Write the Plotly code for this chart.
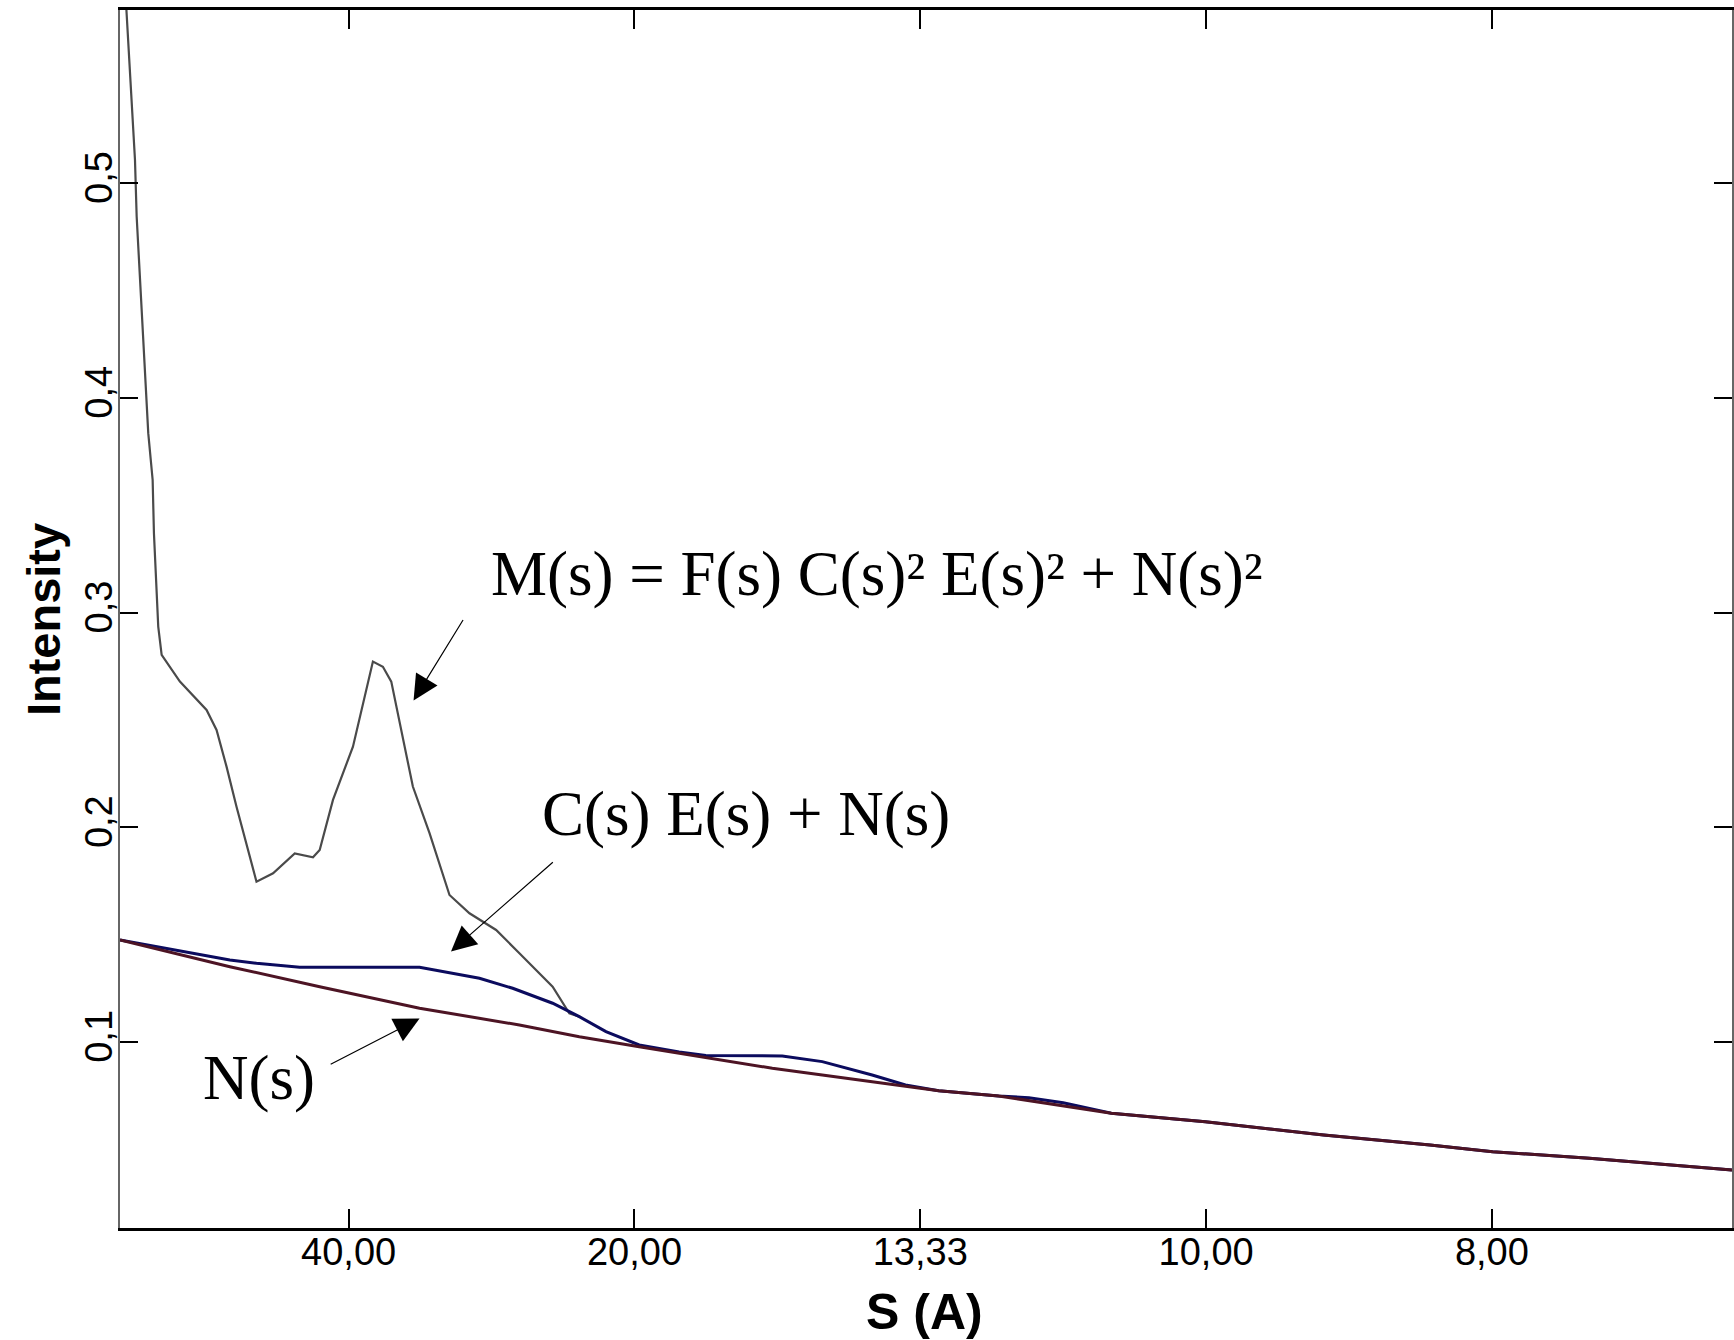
import plotly.graph_objects as go

# ---- data (spatial frequency in 1/Å; tick labels show resolution in Å) ----
freq_M = [0.00514, 0.005585, 0.006022, 0.00631, 0.006459, 0.006747, 0.007035, 0.007332,
          0.007472, 0.007856, 0.007969, 0.008345, 0.008642, 0.01024, 0.012572, 0.013445,
          0.014319, 0.015192, 0.016939, 0.018389, 0.020284, 0.021882, 0.022467, 0.023629,
          0.025376, 0.027122, 0.027996, 0.028729, 0.030039, 0.030616, 0.032074, 0.033821,
          0.035568, 0.0379, 0.039934, 0.042843, 0.044301, 0.045175]
M_vals = [0.62, 0.5807, 0.5419, 0.5109, 0.4844, 0.4565, 0.4317, 0.4006,
          0.3836, 0.3618, 0.337, 0.2935, 0.2803, 0.2679, 0.2547, 0.2454,
          0.2283, 0.2096, 0.1747, 0.1786, 0.1879, 0.1861, 0.1895, 0.2128,
          0.2376, 0.2772, 0.2748, 0.2679, 0.2329, 0.219, 0.1973, 0.1685,
          0.16, 0.1522, 0.1414, 0.1258, 0.1134, 0.1118]

freq_CEN = [0.005, 0.014607, 0.016939, 0.02072, 0.031201, 0.034109, 0.036441, 0.039349,
            0.042843, 0.045175, 0.047507, 0.050415, 0.053908, 0.05624, 0.06293, 0.066424,
            0.07079, 0.073707, 0.076616, 0.081856, 0.0845, 0.0875, 0.091707, 0.099934,
            0.110284, 0.119585, 0.125061, 0.133515, 0.146]
CEN_vals = [0.14756, 0.13819, 0.1367, 0.13484, 0.13484, 0.13205, 0.12972, 0.12506,
            0.11808, 0.11184, 0.10486, 0.09864, 0.09539, 0.0938, 0.09353, 0.09089,
            0.08468, 0.08002, 0.07736, 0.07489, 0.0741, 0.0717, 0.06684, 0.06293,
            0.05673, 0.05207, 0.04895, 0.04587, 0.04042]

freq_N = [0.005, 0.014607, 0.022467, 0.031201, 0.039934, 0.045175, 0.050415, 0.055655,
          0.062057, 0.066424, 0.07079, 0.076616, 0.081856, 0.091707, 0.099934, 0.110284,
          0.119585, 0.125061, 0.133515, 0.146]
N_vals = [0.14756, 0.13512, 0.1258, 0.11574, 0.10796, 0.10251, 0.09786, 0.0932,
          0.0878, 0.08468, 0.08155, 0.07736, 0.07489, 0.06684, 0.06293, 0.05673,
          0.05207, 0.04895, 0.04587, 0.04042]

x_tickvals = [0.025, 0.05, 0.075, 0.1, 0.125]
x_ticktext = ["40,00", "20,00", "13,33", "10,00", "8,00"]
y_tickvals = [0.1, 0.2, 0.3, 0.4, 0.5]
y_ticktext = ["0,1", "0,2", "0,3", "0,4", "0,5"]

fig = go.Figure()
fig.add_trace(go.Scatter(x=freq_M, y=M_vals, mode="lines",
                         line=dict(color="#4a4a4a", width=2.2), showlegend=False))
fig.add_trace(go.Scatter(x=freq_CEN, y=CEN_vals, mode="lines",
                         line=dict(color="#0b0b5e", width=3), showlegend=False))
fig.add_trace(go.Scatter(x=freq_N, y=N_vals, mode="lines",
                         line=dict(color="#4d1424", width=3), showlegend=False))

serif = dict(family="Liberation Serif, Times New Roman, serif", size=63, color="black")
arrow_common = dict(showarrow=True, arrowhead=2, arrowsize=4.2, arrowwidth=1.2,
                    arrowcolor="black", xref="x", yref="y", axref="x", ayref="y", text="")

W, H = 1734, 1340
L, R, T, B = 120, 0, 10, 112
PW, PH = W - L - R, H - T - B


def px_to_paper(ax_abs, ay_abs):
    return (ax_abs - L) / PW, (H - B - ay_abs) / PH


ix, iy = px_to_paper(44, 620)
sx, sy = px_to_paper(925, 1312)

annotations = [
    dict(x=0.0712, y=0.318, xref="x", yref="y", showarrow=False,
         text="M(s) = F(s) C(s)² E(s)² + N(s)²", font=serif),
    dict(x=0.05972, y=0.2062, xref="x", yref="y", showarrow=False,
         text="C(s) E(s) + N(s)", font=serif),
    dict(x=0.01714, y=0.0833, xref="x", yref="y", showarrow=False,
         text="N(s)", font=serif),
    dict(x=0.030677, y=0.25911, ax=0.035087, ay=0.2973, **arrow_common),
    dict(x=0.033952, y=0.1422, ax=0.042991, ay=0.18435, **arrow_common),
    dict(x=0.031201, y=0.11099, ax=0.023297, ay=0.08934, **arrow_common),
    dict(x=ix, y=iy, xref="paper", yref="paper", showarrow=False, text="<b>Intensity</b>",
         textangle=-90, xanchor="center", yanchor="middle",
         font=dict(family="Liberation Sans, Arial, sans-serif", size=47, color="black")),
    dict(x=sx, y=sy, xref="paper", yref="paper", showarrow=False, text="<b>S (A)</b>",
         xanchor="center", yanchor="middle",
         font=dict(family="Liberation Sans, Arial, sans-serif", size=50, color="black")),
]

fig.update_layout(
    width=W, height=H,
    margin=dict(l=L, r=R, t=T, b=B),
    paper_bgcolor="white", plot_bgcolor="white",
    showlegend=False,
    annotations=annotations,
)

fig.update_xaxes(range=[0.005, 0.146], tickvals=x_tickvals, ticktext=x_ticktext,
                 showgrid=False, zeroline=False, showline=True, linecolor="black", linewidth=3,
                 mirror="ticks", ticks="inside", ticklen=19, tickwidth=2, tickcolor="black",
                 ticklabelstandoff=-12,
                 tickfont=dict(family="Liberation Sans, Arial, sans-serif", size=38, color="black"))
fig.update_yaxes(range=[0.0134, 0.5807], tickvals=y_tickvals, ticktext=y_ticktext,
                 showgrid=False, zeroline=False, showline=True, linecolor="#666666", linewidth=2,
                 mirror="ticks", ticks="inside", ticklen=18, tickwidth=2, tickcolor="black",
                 tickangle=-90, ticklabelstandoff=-9,
                 tickfont=dict(family="Liberation Sans, Arial, sans-serif", size=38, color="black"))

fig.write_html("out.html",
               config={"displayModeBar": False},
               post_script="document.body.style.margin='0';document.body.style.overflow='hidden';")
